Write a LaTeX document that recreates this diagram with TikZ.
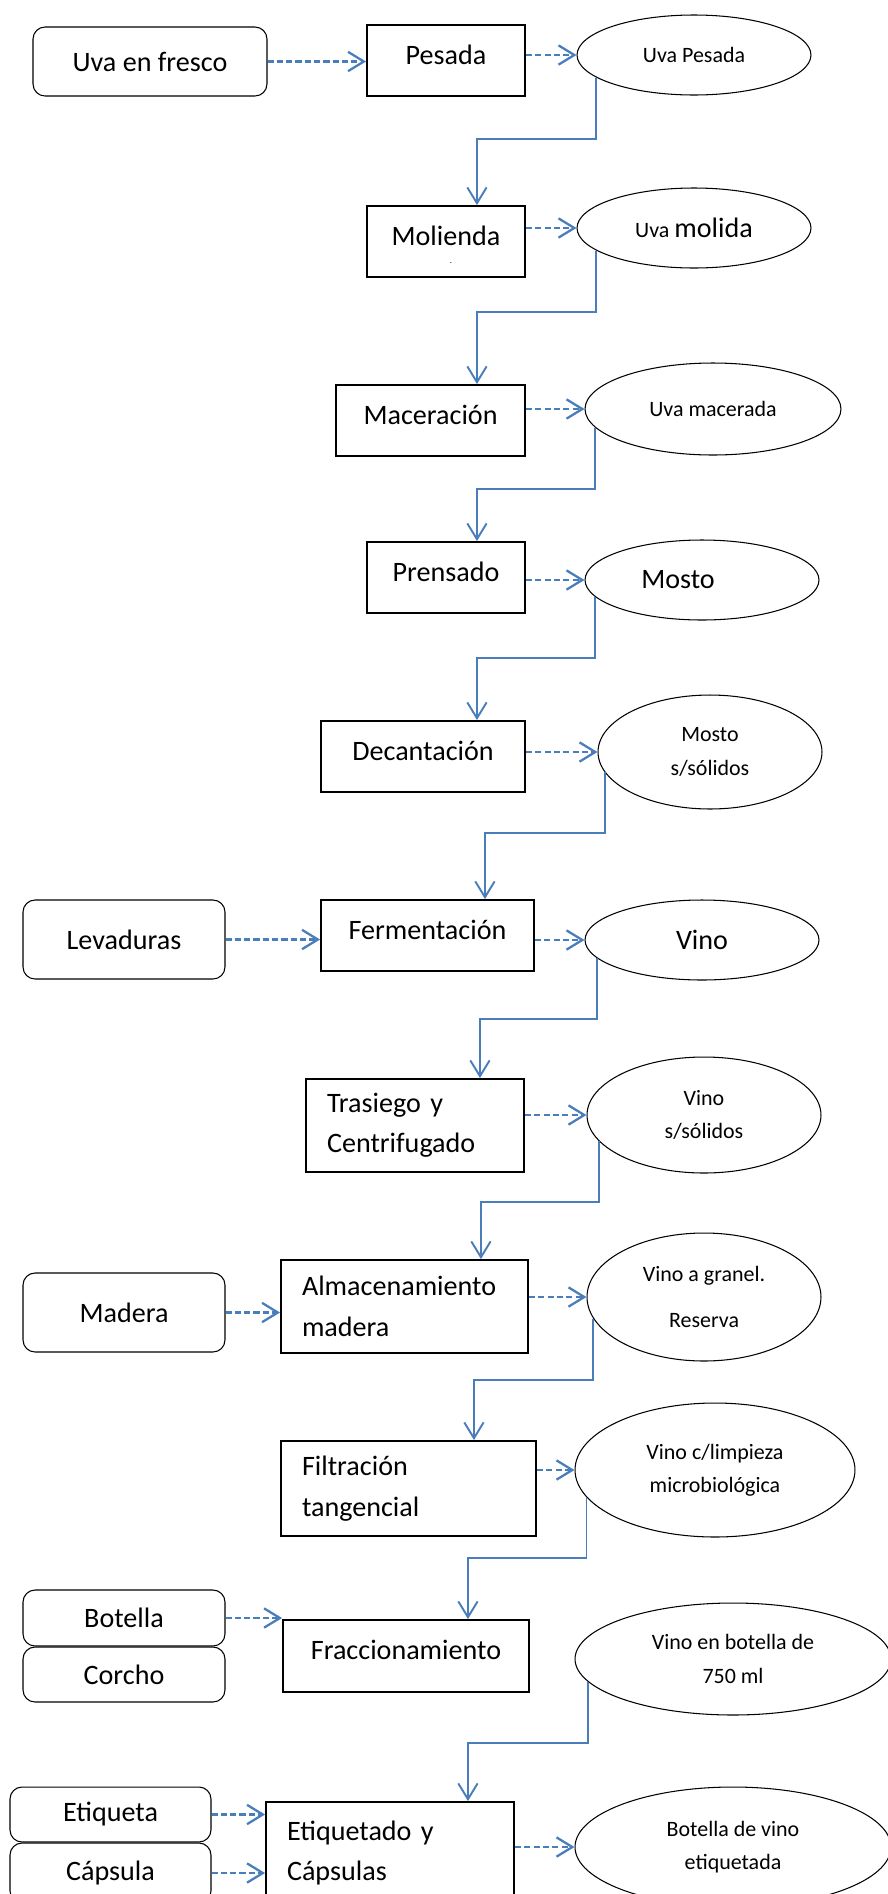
\documentclass[tikz,border=0pt]{standalone}
\usepackage{fontspec}
\setmainfont{Carlito}
\usetikzlibrary{shapes.geometric,arrows.meta}
\definecolor{azul}{RGB}{74,126,187}

\begin{document}
\begin{tikzpicture}[x=0.02cm,y=-0.02cm,
	proceso/.style={draw,line width=1.1pt,minimum height=1.42cm,inner sep=0pt,text depth=0.24cm,font=\fontsize{16}{23}\selectfont},
	proceso2/.style={proceso,text depth=,align=left,inner xsep=0.42cm},
	insumo/.style={draw,line width=0.6pt,rounded corners=0.24cm,minimum width=4.04cm,inner sep=0pt,font=\fontsize{16}{19}\selectfont},
	producto/.style={draw,ellipse,line width=0.6pt,inner sep=0pt,minimum width=4.68cm,minimum height=1.6cm,align=center,font=\fontsize{12.5}{19}\selectfont},
	grande/.style={font=\fontsize{16}{19}\selectfont},
	flujo/.style={draw=azul,line width=1.1pt,-{Straight Barb[length=9pt,width=11pt]}},
	aporte/.style={flujo,line width=1.3pt,dash pattern=on 3.5pt off 1.8pt}]
\useasboundingbox (0,0) rectangle (888,1894);
\path	(150,61.5)	node[insumo,minimum width=4.68cm,minimum height=1.38cm] (fresco) {Uva en fresco}
	(446,60.5)	node[proceso,minimum width=3.16cm] (pesada) {Pesada}
	(694,55)	node[producto] (upesada) {Uva Pesada}
	(446,241.5)	node[proceso,minimum width=3.16cm] (molienda) {Molienda}
	(451,263)	node[font=\fontsize{5}{6}\selectfont,inner sep=0pt] (punto) {.}
	(694,228)	node[producto] (umolida) {Uva {\fontsize{16}{19}\selectfont molida}}
	(430.5,420.5)	node[proceso,minimum width=3.78cm] (maceracion) {Maceración}
	(713,409)	node[producto,minimum width=5.12cm,minimum height=1.84cm] (umacerada) {Uva macerada}
	(446,577.5)	node[proceso,minimum width=3.16cm] (prensado) {Prensado}
	(702,580)	node[producto,grande] (mosto) {Mosto\hspace{0.96cm}}
	(423,756.5)	node[proceso,minimum width=4.08cm] (decantacion) {Decantación}
	(710,752)	node[producto,minimum width=4.48cm,minimum height=2.28cm] (mostoss) {Mosto\\s/sólidos}
	(124,939.5)	node[insumo,minimum height=1.58cm] (levaduras) {Levaduras}
	(427.5,935.5)	node[proceso,minimum width=4.26cm] (fermentacion) {Fermentación}
	(702,940)	node[producto,grande] (vino) {Vino}
	(415,1125.5)	node[proceso2,text width=3.52cm,minimum height=1.86cm] (trasiego) {Trasiego y\\Centrifugado}
	(704,1115)	node[producto,minimum height=2.32cm] (vinoss) {Vino\\s/sólidos}
	(124,1312.5)	node[insumo,minimum height=1.58cm] (madera) {Madera}
	(404.5,1306.5)	node[proceso2,text width=4.10cm,minimum height=1.86cm] (almacen) {Almacenamiento\\madera}
	(704,1297)	node[producto,minimum height=2.56cm] (granel) {Vino a granel.\\[7pt]Reserva}
	(408.5,1488.5)	node[proceso2,text width=4.26cm,minimum height=1.9cm] (filtracion) {Filtración\\tangencial}
	(715,1470)	node[producto,minimum width=5.6cm,minimum height=2.68cm] (limpieza) {Vino c/limpieza\\microbiológica}
	(124,1618)	node[insumo,minimum height=1.12cm] (botella) {Botella}
	(124,1674.5)	node[insumo,minimum height=1.1cm] (corcho) {Corcho}
	(406,1656)	node[proceso,minimum width=4.92cm,minimum height=1.44cm] (fraccion) {Fraccionamiento}
	(733,1659)	node[producto,minimum width=6.32cm,minimum height=2.24cm] (botella750) {Vino en botella de\\750 ml}
	(110.5,1814.5)	node[insumo,minimum width=4.02cm,minimum height=1.1cm] (etiqueta) {Etiqueta}
	(110.5,1873)	node[insumo,minimum width=4.02cm,minimum height=1.2cm] (capsula) {Cápsula}
	(390,1853)	node[proceso2,text width=4.12cm,minimum height=2.04cm] (etiquetado) {Etiquetado y\\Cápsulas}
	(733,1847)	node[producto,minimum width=6.32cm,minimum height=2.4cm] (etiquetada) {Botella de vino\\etiquetada}
	;
\draw [flujo] (upesada.193) -- ++(0,61) -| ([xshift=-0.98cm]molienda.north east);
\draw [flujo] (umolida.193) -- ++(0,61) -| ([xshift=-0.98cm]maceracion.north east);
\draw [flujo] (umacerada.189.5) -- ++(0,61) -| ([xshift=-0.98cm]prensado.north east);
\draw [flujo] (mosto.189.5) -- ++(0,61) -| ([xshift=-0.98cm]decantacion.north east);
\draw [flujo] (mostoss.191) -- ++(0,61) -| ([xshift=-1cm]fermentacion.north east);
\draw [flujo] (vino.190.4) -- ++(0,61) -| ([xshift=-0.9cm]trasiego.north east);
\draw [flujo] (vinoss.194) -- ++(0,61) -| ([xshift=-0.96cm]almacen.north east);
\draw [flujo] (granel.191) -- ++(0,61) -| ([xshift=-1.26cm]filtracion.north east);
\draw [flujo] (limpieza.192.5) -- ++(0,61) -| ([xshift=-1.24cm]fraccion.north east);
\draw [flujo] (botella750.189) -- ++(0,61) -| ([xshift=-0.94cm]etiquetado.north east);
\draw [aporte] (fresco.east) -- (fresco.east -| pesada.west);
\draw [aporte] (upesada.west -| pesada.east) -- (upesada.west);
\draw [aporte] (umolida.west -| molienda.east) -- (umolida.west);
\draw [aporte] (umacerada.west -| maceracion.east) -- (umacerada.west);
\draw [aporte] (mosto.west -| prensado.east) -- (mosto.west);
\draw [aporte] (mostoss.west -| decantacion.east) -- (mostoss.west);
\draw [aporte] (levaduras.east) -- (levaduras.east -| fermentacion.west);
\draw [aporte] (vino.west -| fermentacion.east) -- (vino.west);
\draw [aporte] (vinoss.west -| trasiego.east) -- (vinoss.west);
\draw [aporte] (madera.east) -- (madera.east -| almacen.west);
\draw [aporte] (granel.west -| almacen.east) -- (granel.west);
\draw [aporte] (limpieza.west -| filtracion.east) -- (limpieza.west);
\draw [aporte] (botella.east) -- (botella.east -| fraccion.west);
\draw [aporte] (etiqueta.east) -- (etiqueta.east -| etiquetado.west);
\draw [aporte] (capsula.east) -- (capsula.east -| etiquetado.west);
\draw [aporte] (etiquetada.west -| etiquetado.east) -- (etiquetada.west);
\end{tikzpicture}
\end{document}
